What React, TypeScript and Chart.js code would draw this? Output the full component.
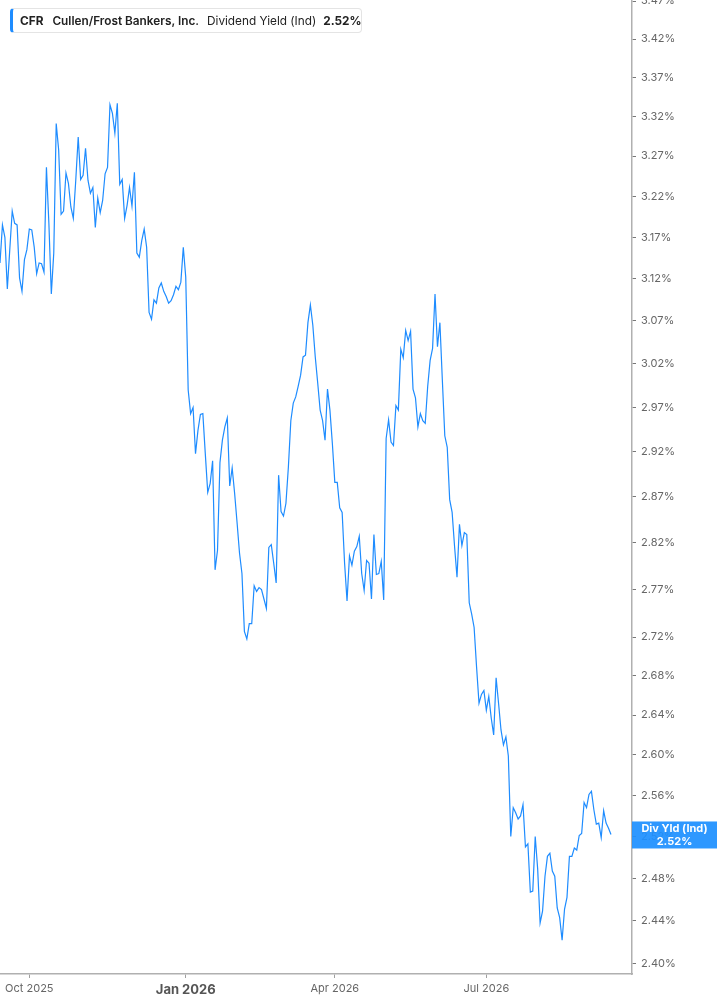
import React, { useEffect, useRef } from "react";
import { Chart, registerables } from "chart.js";

Chart.register(...registerables);

// dividend yield (%), one value per trading day
const yieldValues = [
  3.139, 3.185, 3.170, 3.108, 3.155, 3.202, 3.187, 3.185, 3.121, 3.105, 3.143,
  3.155, 3.180, 3.179, 3.158, 3.126, 3.139, 3.138, 3.128, 3.256, 3.187,
  3.102, 3.151, 3.311, 3.278, 3.198, 3.202, 3.249, 3.236, 3.207, 3.193,
  3.240, 3.294, 3.241, 3.246, 3.280, 3.240, 3.224, 3.231, 3.182, 3.218,
  3.200, 3.215, 3.248, 3.256, 3.335, 3.324, 3.299, 3.337, 3.235, 3.241,
  3.193, 3.209, 3.231, 3.208, 3.250, 3.151, 3.146, 3.166, 3.180, 3.158,
  3.080, 3.072, 3.095, 3.091, 3.109, 3.115, 3.105, 3.099, 3.091, 3.094,
  3.101, 3.111, 3.107, 3.116, 3.158, 3.122, 2.990, 2.963, 2.970, 2.918,
  2.944, 2.962, 2.963, 2.918, 2.875, 2.885, 2.910, 2.791, 2.812, 2.908,
  2.933, 2.948, 2.958, 2.882, 2.902, 2.874, 2.842, 2.809, 2.787, 2.726,
  2.718, 2.734, 2.734, 2.774, 2.768, 2.772, 2.770, 2.760, 2.750, 2.815,
  2.818, 2.798, 2.777, 2.894, 2.854, 2.849, 2.863, 2.903, 2.955, 2.975,
  2.982, 2.994, 3.007, 3.028, 3.030, 3.068, 3.089, 3.065, 3.028, 2.998,
  2.967, 2.955, 2.933, 2.991, 2.967, 2.929, 2.886, 2.886, 2.858, 2.853,
  2.798, 2.758, 2.806, 2.796, 2.811, 2.816, 2.827, 2.787, 2.769, 2.801,
  2.798, 2.760, 2.829, 2.786, 2.787, 2.800, 2.759, 2.935, 2.956, 2.931,
  2.927, 2.972, 2.967, 3.037, 3.027, 3.059, 3.047, 3.058, 2.991, 2.981,
  2.948, 2.963, 2.955, 2.952, 2.994, 3.024, 3.038, 3.102, 3.040, 3.068,
  3.001, 2.938, 2.925, 2.867, 2.853, 2.816, 2.783, 2.840, 2.817, 2.831,
  2.829, 2.756, 2.744, 2.730, 2.689, 2.652, 2.661, 2.665, 2.645, 2.659,
  2.637, 2.620, 2.678, 2.652, 2.625, 2.610, 2.618, 2.599, 2.520, 2.548,
  2.543, 2.537, 2.540, 2.551, 2.510, 2.513, 2.467, 2.468, 2.520, 2.489,
  2.438, 2.449, 2.482, 2.501, 2.504, 2.487, 2.482, 2.452, 2.443, 2.422,
  2.451, 2.462, 2.501, 2.501, 2.509, 2.507, 2.521, 2.523, 2.553, 2.548,
  2.561, 2.564, 2.546, 2.532, 2.533, 2.519, 2.545, 2.533, 2.528, 2.522,
];

// trading-day index where each month label sits
const monthTickIndex = [12, 76, 137, 199];
const monthTickLabels = ["Oct 2025", "Jan 2026", "Apr 2026", "Jul 2026"];
const boldMonth = "Jan 2026";

const yieldTicks = [
  3.47, 3.42, 3.37, 3.32, 3.27, 3.22, 3.17, 3.12, 3.07, 3.02, 2.97, 2.92,
  2.87, 2.82, 2.77, 2.72, 2.68, 2.64, 2.6, 2.56, 2.52, 2.48, 2.44, 2.4,
];

const ticker = "CFR";
const company = "Cullen/Frost Bankers, Inc.";
const metric = "Dividend Yield (Ind)";
const shortMetric = "Div Yld (Ind)";

const FONT = "Inter, 'Noto Sans', sans-serif";
const BLUE = "#1e8cff";

const isBold = (c: any) =>
  monthTickLabels[monthTickIndex.indexOf(c?.tick?.value)] === boldMonth;

const lastValueTag = {
  id: "lastValueTag",
  afterDraw(chart: Chart) {
    const { ctx, chartArea } = chart;
    const last = yieldValues[yieldValues.length - 1];
    const y = chart.scales.y.getPixelForValue(last);
    const x = chartArea.right;
    ctx.save();
    ctx.fillStyle = "rgba(30,144,255,0.93)";
    ctx.fillRect(x, y - 13, chart.width - x, 27);
    ctx.fillStyle = "#fff";
    ctx.font = `bold 11px ${FONT}`;
    ctx.textAlign = "center";
    ctx.textBaseline = "middle";
    const cx = x + (chart.width - x) / 2;
    ctx.fillText(shortMetric, cx, y - 6);
    ctx.fillText(last.toFixed(2) + "%", cx, y + 7);
    ctx.restore();
  },
};

const YieldChart = () => {
  const canvasRef = useRef<HTMLCanvasElement>(null);
  const chartRef = useRef<Chart | null>(null);

  useEffect(() => {
    if (!canvasRef.current) return;
    chartRef.current?.destroy();

    chartRef.current = new Chart(canvasRef.current, {
      type: "line",
      data: {
        labels: yieldValues.map((_, i) => i),
        datasets: [
          {
            data: yieldValues,
            borderColor: BLUE,
            borderWidth: 1.2,
            pointRadius: 0,
            tension: 0,
            fill: false,
          },
        ],
      },
      options: {
        animation: false,
        responsive: true,
        maintainAspectRatio: false,
        layout: { padding: 0 },
        plugins: {
          legend: { display: false },
          tooltip: { enabled: false },
        },
        scales: {
          x: {
            type: "linear",
            min: 0,
            max: 258.6,
            afterBuildTicks: (scale: any) => {
              scale.ticks = monthTickIndex.map((v) => ({ value: v }));
            },
            afterFit: (scale: any) => {
              scale.height = 31;
              scale.paddingLeft = 0;
              scale.paddingRight = 0;
            },
            grid: {
              drawOnChartArea: false,
              drawTicks: true,
              tickLength: 4,
              color: "#a0a0a0",
            },
            border: { display: true, color: "#b0b0b0", width: 1.5 },
            ticks: {
              autoSkip: false,
              maxRotation: 0,
              padding: 4,
              color: (c: any) => (isBold(c) ? "#555" : "#666"),
              font: (c: any) =>
                isBold(c)
                  ? { family: FONT, size: 13, weight: "bold" }
                  : { family: FONT, size: 11 },
              callback: (v: any) => monthTickLabels[monthTickIndex.indexOf(v)] ?? "",
            },
          },
          y: {
            type: "logarithmic",
            position: "right",
            min: 2.3908,
            max: 3.4715,
            bounds: "data",
            afterBuildTicks: (scale: any) => {
              scale.ticks = yieldTicks.map((v) => ({ value: v }));
            },
            afterFit: (scale: any) => {
              scale.width = 85;
              scale.paddingTop = 0;
              scale.paddingBottom = 0;
            },
            grid: {
              drawOnChartArea: false,
              drawTicks: true,
              tickLength: 4,
              color: "#777",
            },
            border: { display: true, color: "#b0b0b0", width: 1.5 },
            ticks: {
              autoSkip: false,
              padding: 5,
              color: "#666",
              font: { family: FONT, size: 11 },
              callback: (v: any) => Number(v).toFixed(2) + "%",
            },
          },
        },
      },
      plugins: [lastValueTag],
    });

    return () => {
      chartRef.current?.destroy();
    };
  }, []);

  return (
    <div style={{ position: "absolute", left: 0, top: 0, width: 717, height: 1005 }}>
      <canvas ref={canvasRef} />
      <div
        style={{
          position: "absolute",
          left: 10,
          top: 8,
          height: 25,
          width: 352,
          boxSizing: "border-box",
          border: "1px solid #e4e4e4",
          borderLeft: `3px solid ${BLUE}`,
          borderRadius: 4,
          background: "#fff",
          display: "flex",
          alignItems: "center",
          paddingLeft: 7,
          fontFamily: FONT,
          fontSize: 11.8,
          color: "#222",
          whiteSpace: "nowrap",
        }}
      >
        <span style={{ fontWeight: 700 }}>{ticker}</span>
        <span style={{ fontWeight: 600, marginLeft: 9 }}>{company}</span>
        <span style={{ fontWeight: 400, marginLeft: 8 }}>{metric}</span>
        <span style={{ fontWeight: 700, marginLeft: 7 }}>
          {yieldValues[yieldValues.length - 1].toFixed(2)}%
        </span>
      </div>
    </div>
  );
};

export default function App() {
  return <YieldChart />;
}
